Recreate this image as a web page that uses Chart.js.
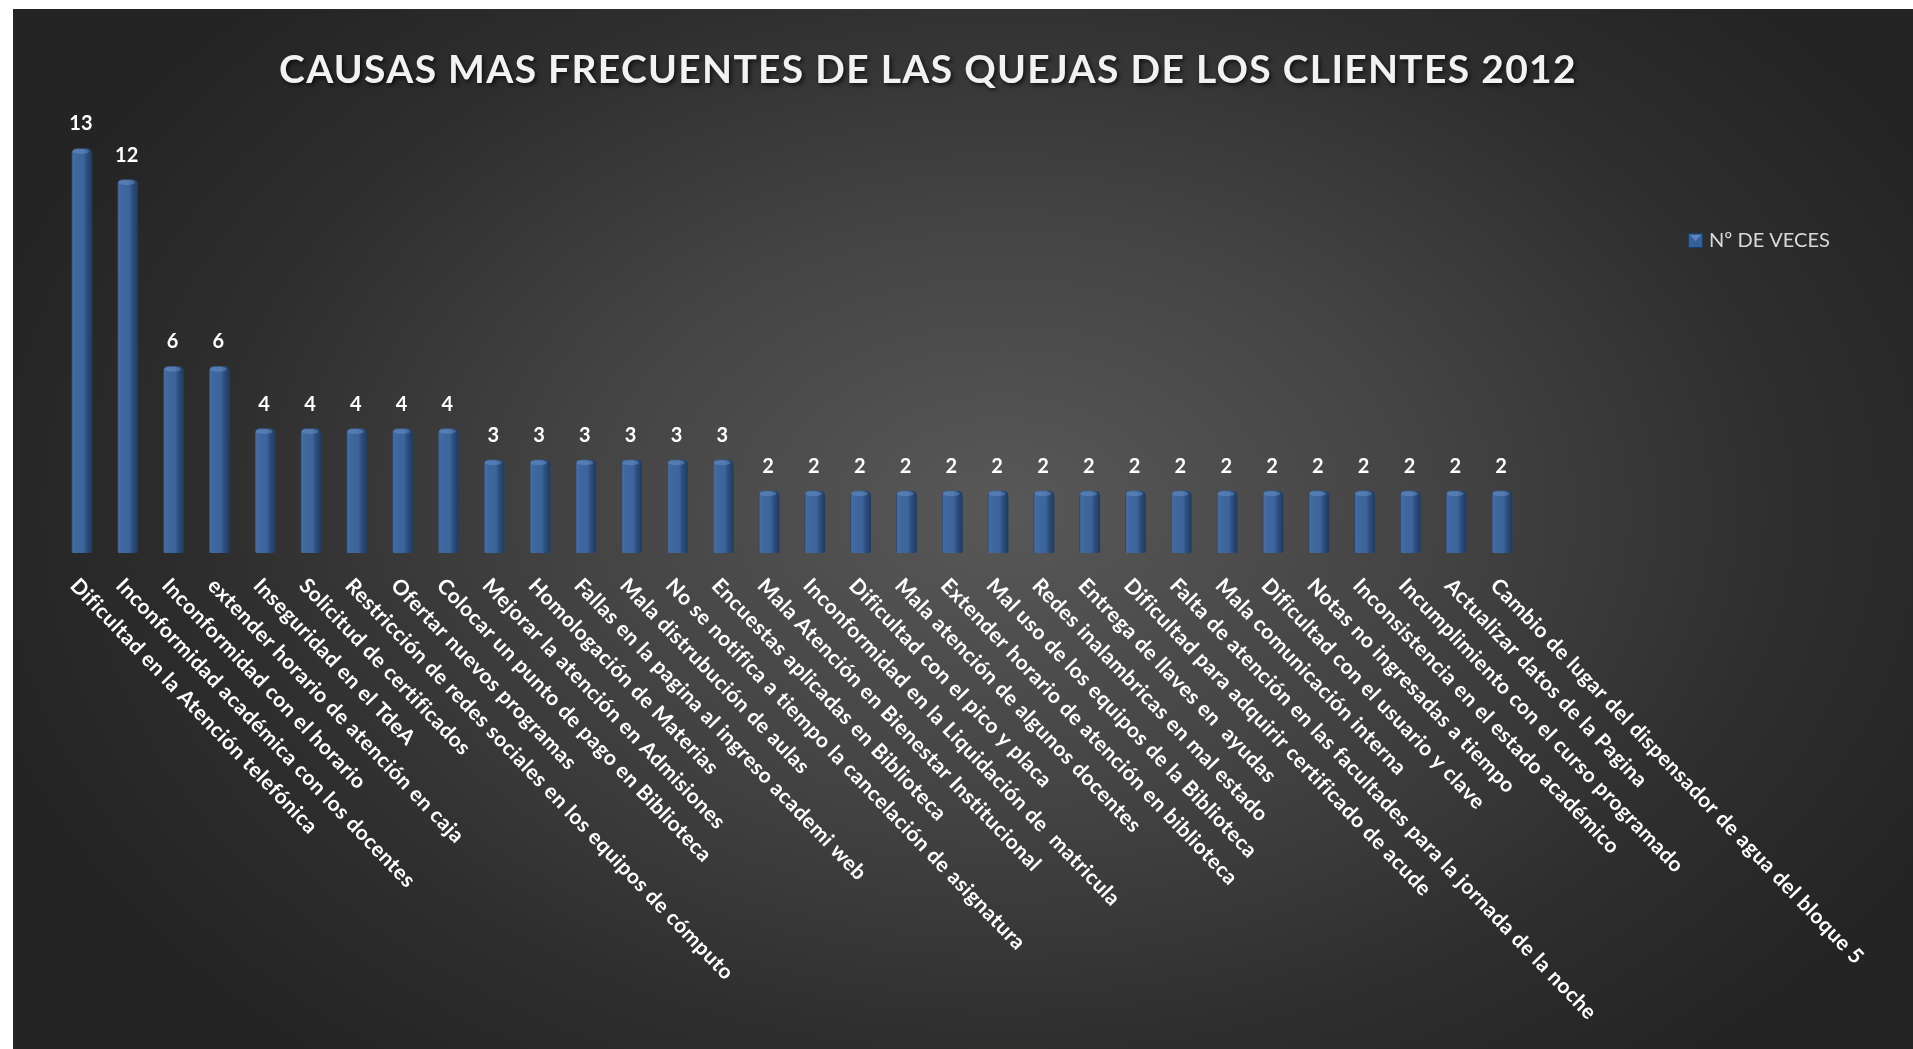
<!DOCTYPE html>
<html>
<head>
<meta charset="utf-8">
<script src="https://cdn.jsdelivr.net/npm/chart.js@4.4.1/dist/chart.umd.min.js"></script>
<style>
  html, body { margin: 0; padding: 0; background: #fff; }
  #wrap {
    position: absolute; left: 13px; top: 9px; width: 1900px; height: 1040px;
    background: radial-gradient(ellipse 1050px 720px at 990px 500px, #585858 0%, #444444 40%, #2e2e2e 75%, #242424 100%);
  }
</style>
</head>
<body>
<div id="wrap"><canvas id="quejas" width="1900" height="1040"></canvas></div>
<script>
const titleText = 'CAUSAS MAS FRECUENTES DE LAS QUEJAS DE LOS CLIENTES 2012';
const seriesName = 'Nº DE VECES';
const categories = [
    'Dificultad en la Atención telefónica',
    'Inconformidad académica con los docentes',
    'Inconformidad con el horario',
    'extender horario de atención en caja',
    'Inseguridad en el TdeA',
    'Solicitud de certificados',
    'Restricción de redes sociales en los equipos de cómputo',
    'Ofertar nuevos programas',
    'Colocar un punto de pago en Biblioteca',
    'Mejorar la atención en Admisiones',
    'Homologación de Materias',
    'Fallas en la pagina al ingreso academi web',
    'Mala distrubución de aulas',
    'No se notifica a tiempo la cancelación de asignatura',
    'Encuestas aplicadas en Biblioteca',
    'Mala Atención en Bienestar Institucional',
    'Inconformidad en la Liquidación de  matricula',
    'Dificultad con el pico y placa',
    'Mala atención de algunos docentes',
    'Extender horario de atención en biblioteca',
    'Mal uso de los equipos de la Biblioteca',
    'Redes inalambricas en mal estado',
    'Entrega de llaves en  ayudas',
    'Dificultad para adquirir certificado de acude',
    'Falta de atención en las facultades para la jornada de la noche',
    'Mala comunicación interna',
    'Dificultad con el usuario y clave',
    'Notas no ingresadas a tiempo',
    'Inconsistencia en el estado académico',
    'Incumplimiento con el curso programado',
    'Actualizar datos de la Pagina',
    'Cambio de lugar del dispensador de agua del bloque 5'
];
const counts = [13, 12, 6, 6, 4, 4, 4, 4, 4, 3, 3, 3, 3, 3, 3,
    2, 2, 2, 2, 2, 2, 2, 2, 2, 2, 2, 2, 2, 2, 2, 2, 2];

const barBlue = '#36609a';
const fontFam = 'Lato, "Open Sans", sans-serif';

let canvas = document.getElementById("quejas");
let ctx = canvas.getContext("2d");

// sombra y espaciado del titulo (el titulo se dibuja antes que las barras)
const titleShadow = {
    id: 'titleShadow',
    beforeDraw(chart) {
        const c = chart.ctx;
        c.shadowColor = 'rgba(0,0,0,0.7)';
        c.shadowBlur = 4;
        c.shadowOffsetX = 2;
        c.shadowOffsetY = 2;
        c.letterSpacing = '1.3px';
    },
    beforeDatasetsDraw(chart) {
        const c = chart.ctx;
        c.shadowColor = 'transparent';
        c.shadowBlur = 0;
        c.shadowOffsetX = 0;
        c.shadowOffsetY = 0;
        c.letterSpacing = '0px';
    }
};

// sombreado tipo cilindro sobre cada barra
const barShade = {
    id: 'barShade',
    afterDatasetsDraw(chart) {
        const c = chart.ctx;
        const meta = chart.getDatasetMeta(0);
        c.save();
        meta.data.forEach(bar => {
            const {x, y, base, width} = bar.getProps(['x', 'y', 'base', 'width'], true);
            const l = x - width / 2;
            const g = c.createLinearGradient(l, 0, l + width, 0);
            g.addColorStop(0, 'rgba(0,0,0,0.35)');
            g.addColorStop(0.12, 'rgba(255,255,255,0.06)');
            g.addColorStop(0.45, 'rgba(255,255,255,0.03)');
            g.addColorStop(0.7, 'rgba(0,0,0,0.15)');
            g.addColorStop(1, 'rgba(0,0,0,0.4)');
            c.fillStyle = g;
            c.beginPath();
            c.roundRect(l, y, width, base - y, [5, 5, 2, 2]);
            c.fill();
            // tapa superior
            c.fillStyle = 'rgba(110,150,205,0.45)';
            c.beginPath();
            c.ellipse(x - 1, y + 3, width / 2 - 2, 2.5, 0, 0, Math.PI * 2);
            c.fill();
        });
        c.restore();
    }
};

// valores, etiquetas inclinadas y leyenda
const extras = {
    id: 'extras',
    afterDraw(chart) {
        const c = chart.ctx;
        const xs = chart.scales.x;
        const area = chart.chartArea;
        const meta = chart.getDatasetMeta(0);
        c.save();
        c.fillStyle = '#ffffff';
        c.font = 'bold 20px ' + fontFam;
        c.textAlign = 'center';
        c.textBaseline = 'alphabetic';
        meta.data.forEach((bar, i) => {
            c.fillText(String(chart.data.datasets[0].data[i]), bar.x - 1, bar.y - 18);
        });

        c.font = 'bold 21px ' + fontFam;
        c.letterSpacing = '0.5px';
        c.textAlign = 'left';
        c.textBaseline = 'middle';
        chart.data.labels.forEach((lab, i) => {
            const px = xs.getPixelForValue(i);
            c.save();
            c.translate(px - 8, area.bottom + 29);
            c.rotate(46 * Math.PI / 180);
            c.fillText(lab, 0, 0);
            c.restore();
        });
        c.letterSpacing = '0px';

        // leyenda
        const lx = area.right + 163;
        const ly = 224;
        c.fillStyle = barBlue;
        c.fillRect(lx, ly, 15, 15);
        c.strokeStyle = '#1f3a60';
        c.lineWidth = 1;
        c.strokeRect(lx + 0.5, ly + 0.5, 14, 14);
        c.fillStyle = 'rgba(120,160,215,0.6)';
        c.beginPath();
        c.moveTo(lx + 2, ly + 2);
        c.lineTo(lx + 13, ly + 2);
        c.lineTo(lx + 7.5, ly + 8);
        c.closePath();
        c.fill();
        c.fillStyle = '#d9d9d9';
        c.font = '20px ' + fontFam;
        c.textBaseline = 'middle';
        c.fillText(chart.data.datasets[0].label, lx + 21, ly + 8);
        c.restore();
    }
};

new Chart(ctx, {
    type: 'bar',
    data: {
        labels: categories,
        datasets: [{
            label: seriesName,
            data: counts,
            backgroundColor: barBlue,
            borderWidth: 0,
            borderRadius: {topLeft: 5, topRight: 5, bottomLeft: 2, bottomRight: 2},
            borderSkipped: false,
            barPercentage: 0.45,
            categoryPercentage: 1
        }]
    },
    options: {
        responsive: false,
        animation: false,
        devicePixelRatio: 1,
        layout: {
            padding: {left: 0, right: 70, top: 0, bottom: 0}
        },
        scales: {
            x: {
                grid: {display: false},
                border: {display: false},
                ticks: {display: false},
                afterFit: function (scale) { scale.height = 496; }
            },
            y: {
                min: 0,
                max: 14.5,
                grid: {display: false},
                border: {display: false},
                ticks: {display: false},
                afterFit: function (scale) { scale.width = 46; }
            },
            yRight: {
                position: 'right',
                grid: {display: false},
                border: {display: false},
                ticks: {display: false},
                afterFit: function (scale) { scale.width = 318; }
            }
        },
        plugins: {
            legend: {display: false},
            tooltip: {enabled: false},
            title: {
                display: true,
                text: titleText,
                color: '#f2f2f2',
                font: {family: fontFam, size: 39, weight: 'bold'},
                padding: {top: 38, bottom: 8}
            }
        }
    },
    plugins: [titleShadow, barShade, extras]
});
</script>
</body>
</html>
